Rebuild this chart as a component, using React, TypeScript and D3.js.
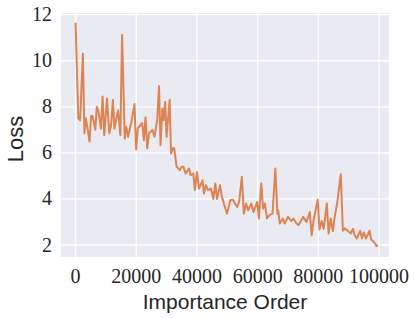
import React from "react";
import * as d3 from "d3";

const order = [
  0, 900, 1500, 2400, 2900, 3400, 4000, 4600, 5100, 5600, 6500, 7000, 7500, 8350, 8900, 9450,
  10350, 11100, 11700, 12300, 12800, 14000, 14760, 15320, 16200, 16700, 17300, 18400, 19400,
  19970, 20500, 21950, 22500, 23050, 23600, 24200, 25300, 26000, 26900, 27500, 28000, 28600,
  29000, 29500, 30000, 31000, 31450, 32000, 32500, 33300, 34300, 35000, 35550, 36300, 37400,
  37900, 38800, 39300, 40000, 40700, 41850, 42300, 42950, 43600, 44600, 45400, 46050, 46600,
  47600, 48200, 49900, 51000, 51800, 53250, 53900, 54800, 55450, 56200, 56900, 57900, 58600,
  59900, 60400, 61200, 61800, 62400, 63100, 63900, 64900, 65850, 66500, 66800, 67300, 68300,
  68900, 70000, 71150, 71800, 72800, 73500, 75000, 76100, 77200, 77800, 78400, 79800, 80400,
  81100, 81800, 82800, 83400, 84100, 84800, 85400, 86200, 87400, 88100, 88700, 89700, 90700,
  91400, 92000, 92700, 93800, 94400, 95000, 95700, 96900, 97400, 98300, 99200, 99600,
];

const loss = [
  11.65, 7.5, 7.42, 10.3, 6.85, 7.5, 7.0, 6.5, 7.6, 7.6, 7.0, 8.0, 7.85, 7.05, 8.45, 6.77,
  8.36, 6.85, 7.2, 8.3, 7.05, 7.85, 6.77, 11.12, 6.62, 7.13, 6.7, 7.35, 8.12,
  6.15, 7.07, 7.3, 6.55, 7.55, 6.2, 6.85, 7.0, 6.7, 7.42, 8.9, 6.33, 7.93,
  7.42, 8.22, 6.7, 8.3, 5.97, 6.2, 6.2, 5.4, 5.25, 5.4, 5.4, 5.1, 5.32,
  5.03, 5.1, 4.38, 5.17, 4.45, 4.81, 4.23, 4.6, 4.38, 4.45, 4.0, 4.67, 4.0,
  4.6, 4.1, 3.36, 3.94, 3.97, 3.65, 3.87, 4.96, 3.36, 3.8, 3.5, 3.8, 3.43,
  3.87, 3.15, 4.67, 3.58, 3.8, 3.15, 3.3, 3.36, 5.32, 3.36, 3.5, 2.93, 3.15,
  2.93, 3.22, 3.04, 3.15, 2.93, 2.87, 3.22, 3.0, 3.43, 2.42, 3.04, 3.97, 2.67,
  3.04, 2.7, 3.8, 2.5, 3.15, 2.6, 3.22, 3.8, 5.07, 2.62, 2.72, 2.62, 2.5,
  2.7, 2.42, 2.28, 2.62, 2.28, 2.55, 2.28, 2.62, 2.24, 2.14, 1.95, 2.0,
];

const xTicks = [0, 20000, 40000, 60000, 80000, 100000];
const yTicks = [2, 4, 6, 8, 10, 12];

export default function App() {
  const W = 415, H = 318;
  const left = 61, right = 389, top = 13, bottom = 257;
  const x = d3.scaleLinear().domain([-4810, 103300]).range([left, right]);
  const y = d3.scaleLinear().domain([1.479, 12.074]).range([bottom, top]);
  const pts: [number, number][] = order.map((o, i) => [o, loss[i]]);
  const line = d3.line<[number, number]>().x(d => x(d[0])).y(d => y(d[1]));
  const serif = "'Liberation Serif', 'DejaVu Serif', serif";
  const sans = "'Liberation Sans', 'DejaVu Sans', sans-serif";
  return (
    <svg width={W} height={H} style={{ position: "absolute", left: 0, top: 0 }}>
      <rect x={0} y={0} width={W} height={H} fill="#ffffff" />
      <rect x={left} y={top} width={right - left} height={bottom - top} fill="#EAEAF2" />
      {xTicks.map(t => (
        <line key={"gx" + t} x1={x(t)} x2={x(t)} y1={top} y2={bottom} stroke="#ffffff" strokeWidth={1.3} />
      ))}
      {yTicks.map(t => (
        <line key={"gy" + t} x1={left} x2={right} y1={y(t)} y2={y(t)} stroke="#ffffff" strokeWidth={1.3} />
      ))}
      <path d={line(pts) || ""} fill="none" stroke="#DD8452" strokeWidth={2} strokeLinejoin="round" />
      {xTicks.map(t => (
        <text key={"tx" + t} x={x(t)} y={283} textAnchor="middle" fontFamily={serif} fontSize={20} fill="#262626">
          {t}
        </text>
      ))}
      {yTicks.map(t => (
        <text key={"ty" + t} x={52} y={y(t) + 6.5} textAnchor="end" fontFamily={serif} fontSize={20} fill="#262626">
          {t}
        </text>
      ))}
      <text x={(left + right) / 2} y={309} textAnchor="middle" fontFamily={sans} fontSize={21} fill="#262626">
        Importance Order
      </text>
      <text transform={`translate(23,139) rotate(-90)`} textAnchor="middle" fontFamily={sans} fontSize={22} fill="#262626">
        Loss
      </text>
    </svg>
  );
}
